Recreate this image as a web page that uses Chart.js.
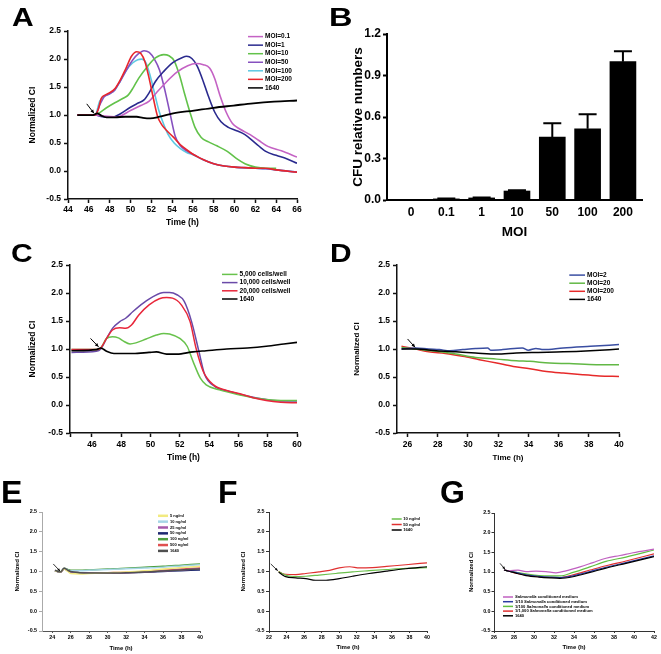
<!DOCTYPE html>
<html>
<head>
<meta charset="utf-8">
<script src="https://cdn.jsdelivr.net/npm/chart.js@4.4.0/dist/chart.umd.min.js"></script>
<style>
  body { margin: 0; background: #fff; width: 661px; height: 654px; position: relative; overflow: hidden;
         font-family: Arial, "Liberation Sans", sans-serif; }
  .letter { position: absolute; font-weight: bold; color: #000; line-height: 1; transform-origin: left top;
            will-change: transform; }
  .box { position: absolute; }
</style>
</head>
<body>
<div class="letter" style="left:12px;top:5px;font-size:25px;transform:scaleX(1.2)">A</div>
<div class="letter" style="left:329px;top:4px;font-size:26px;transform:scaleX(1.25)">B</div>
<div class="letter" style="left:11px;top:240px;font-size:26px;transform:scaleX(1.15)">C</div>
<div class="letter" style="left:330px;top:240px;font-size:26px;transform:scaleX(1.15)">D</div>
<div class="letter" style="left:1px;top:476px;font-size:32px;transform:scaleX(1)">E</div>
<div class="letter" style="left:218px;top:476px;font-size:32px;transform:scaleX(1)">F</div>
<div class="letter" style="left:440px;top:476px;font-size:32px;transform:scaleX(1)">G</div>

<script>
// ---------- data (time h, normalized CI) ----------
// panel A
const aMoi01 = [[44.9,1.0],[46.6,1.0],[47.5,0.98],[48.5,0.97],[49.0,0.98],[50.0,1.08],[51.0,1.17],[51.8,1.25],[52.5,1.4],[53.5,1.6],[54.5,1.77],[55.5,1.88],[56.3,1.92],[57.0,1.9],[57.6,1.84],[58.1,1.65],[58.6,1.35],[59.2,1.05],[59.8,0.85],[60.5,0.75],[61.5,0.65],[62.3,0.55],[63.2,0.44],[64.5,0.36],[66.0,0.25]];
const aMoi1 = [[44.9,1.0],[46.6,1.0],[47.3,0.97],[48.3,0.96],[49.0,1.02],[50.0,1.14],[50.8,1.22],[51.3,1.27],[51.8,1.4],[52.4,1.6],[53.2,1.78],[54.1,1.94],[55.0,2.03],[55.4,2.05],[55.9,2.01],[56.4,1.88],[56.9,1.65],[57.5,1.33],[58.1,1.05],[58.7,0.88],[59.4,0.78],[60.2,0.72],[61.0,0.65],[62.0,0.5],[63.0,0.35],[64.0,0.28],[65.0,0.22],[66.0,0.14]];
const aMoi10 = [[44.9,1.0],[46.6,1.0],[47.0,1.04],[47.7,1.13],[48.5,1.22],[49.3,1.3],[49.8,1.36],[50.3,1.5],[50.8,1.66],[51.6,1.86],[52.4,2.02],[53.2,2.08],[53.7,2.06],[54.2,1.97],[54.7,1.72],[55.2,1.38],[55.7,1.06],[56.2,0.78],[56.8,0.6],[57.5,0.52],[58.3,0.45],[59.3,0.35],[60.2,0.22],[61.0,0.13],[62.0,0.07],[63.0,0.05],[64.0,0.05]];
const aMoi50 = [[44.9,1.0],[46.6,1.0],[47.1,1.2],[47.5,1.33],[48.0,1.38],[48.5,1.45],[49.0,1.6],[49.6,1.8],[50.2,1.98],[50.8,2.1],[51.3,2.15],[51.8,2.12],[52.3,2.0],[52.8,1.8],[53.3,1.45],[53.8,1.03],[54.3,0.62],[54.8,0.45],[55.4,0.36],[56.0,0.3],[57.0,0.2],[58.0,0.13],[59.0,0.09],[60.0,0.07],[62.0,0.05],[63.0,0.04],[64.0,0.02],[66.0,-0.02]];
const aMoi100 = [[44.9,1.0],[46.6,1.0],[47.05,1.25],[47.5,1.34],[48.0,1.38],[48.5,1.45],[49.0,1.6],[49.6,1.8],[50.2,1.93],[50.7,1.99],[51.1,2.0],[51.5,1.93],[51.9,1.7],[52.3,1.4],[52.7,1.1],[53.1,0.88],[53.6,0.66],[54.2,0.5],[54.8,0.4],[55.4,0.33],[56.0,0.29],[57.0,0.2],[58.0,0.13],[59.0,0.09],[60.0,0.07],[62.0,0.05],[63.0,0.04],[64.0,0.02],[66.0,-0.02]];
const aMoi200 = [[44.9,1.0],[46.6,1.0],[46.9,1.1],[47.2,1.3],[47.6,1.36],[48.0,1.4],[48.5,1.47],[49.0,1.62],[49.6,1.85],[50.1,2.05],[50.6,2.13],[51.0,2.1],[51.4,1.95],[51.8,1.65],[52.2,1.3],[52.6,0.98],[53.0,0.83],[53.5,0.72],[54.1,0.61],[54.8,0.47],[55.4,0.38],[56.0,0.3],[56.7,0.23],[57.4,0.17],[58.0,0.13],[59.0,0.09],[60.0,0.07],[61.0,0.06],[62.0,0.05],[63.0,0.05],[64.0,0.02],[66.0,-0.02]];
const a1640 = [[44.9,1.0],[46.4,1.0],[46.8,1.03],[47.2,0.99],[47.7,0.96],[48.5,0.96],[49.5,0.97],[50.6,0.97],[51.2,0.95],[51.9,0.94],[52.8,0.97],[54.1,1.03],[56.1,1.08],[58.0,1.13],[59.9,1.17],[61.8,1.21],[63.8,1.24],[66.0,1.26]];

// panel B
const cfuLabels = ['0', '0.1', '1', '10', '50', '100', '200'];
const cfuMean = [0, 0.008, 0.015, 0.065, 0.455, 0.515, 1.0];
const cfuSd = [0, 0.002, 0.003, 0.006, 0.1, 0.105, 0.075];

// panel C
const c5000 = [[44.6,0.99],[46.3,0.99],[46.6,1.02],[47.0,1.19],[47.4,1.22],[47.8,1.2],[48.1,1.15],[48.6,1.09],[49.0,1.11],[49.7,1.18],[50.4,1.25],[50.9,1.28],[51.3,1.27],[52.0,1.19],[52.5,1.05],[52.9,0.78],[53.4,0.48],[53.8,0.36],[54.7,0.27],[56.1,0.18],[57.5,0.11],[58.9,0.08],[60.0,0.08]];
const c10000 = [[44.6,0.94],[46.3,0.96],[46.6,1.0],[47.0,1.19],[47.4,1.37],[47.9,1.49],[48.3,1.55],[48.8,1.67],[49.5,1.82],[50.2,1.94],[50.9,2.01],[51.3,2.01],[51.8,1.97],[52.3,1.85],[52.8,1.49],[53.3,0.96],[53.7,0.54],[54.4,0.33],[55.4,0.24],[56.6,0.16],[57.9,0.1],[59.1,0.07],[60.0,0.07]];
const c20000 = [[44.6,0.99],[46.3,0.99],[46.6,1.02],[47.0,1.19],[47.4,1.34],[47.9,1.38],[48.3,1.37],[48.7,1.43],[49.2,1.61],[49.9,1.79],[50.6,1.9],[51.1,1.92],[51.5,1.91],[52.1,1.79],[52.7,1.49],[53.1,1.02],[53.6,0.6],[54.3,0.36],[55.2,0.26],[56.1,0.2],[57.0,0.13],[57.9,0.08],[58.9,0.05],[60.0,0.04]];
const c1640 = [[44.6,0.97],[46.3,0.99],[46.6,1.02],[47.0,0.96],[47.5,0.92],[48.8,0.92],[49.9,0.94],[50.4,0.95],[51.1,0.91],[51.8,0.91],[52.9,0.95],[53.8,0.97],[55.2,1.0],[56.6,1.02],[57.9,1.05],[59.1,1.09],[60.0,1.12]];

// panel D
const dMoi2 = [[25.6,1.0],[26.55,1.02],[27.4,1.0],[28.1,0.99],[28.8,0.97],[29.65,0.99],[30.5,1.01],[31.3,1.02],[31.5,0.98],[32.3,0.99],[33.6,1.02],[34.0,0.98],[34.5,1.01],[35.0,0.99],[36.3,1.02],[38.1,1.05],[40.0,1.08]];
const dMoi20 = [[25.6,1.03],[26.55,1.0],[27.9,0.96],[29.2,0.91],[30.5,0.85],[31.9,0.82],[33.2,0.79],[34.1,0.78],[35.4,0.75],[36.7,0.74],[38.5,0.72],[40.0,0.72]];
const dMoi200 = [[25.6,1.05],[26.55,1.0],[27.4,0.95],[28.5,0.92],[29.65,0.87],[30.75,0.81],[31.9,0.75],[33.0,0.69],[34.1,0.65],[35.2,0.6],[36.3,0.57],[37.6,0.54],[38.7,0.52],[40.0,0.51]];
const d1640 = [[25.6,1.0],[26.55,1.0],[27.9,0.97],[29.2,0.95],[30.5,0.93],[31.9,0.91],[33.2,0.93],[34.5,0.94],[36.3,0.95],[38.1,0.97],[40.0,1.0]];

// panel E (shared time points)
const eTime = [24.3, 24.9, 25.3, 25.7, 26, 27, 28, 30, 32, 34, 36, 38, 40];
const e5 = [1.02, 0.99, 1.06, 1.0, 0.95, 0.94, 0.95, 0.97, 0.99, 1.02, 1.06, 1.1, 1.13];
const e10 = [1.02, 0.99, 1.08, 1.04, 1.02, 1.02, 1.03, 1.05, 1.07, 1.09, 1.11, 1.14, 1.17];
const e25 = [1.02, 0.98, 1.07, 1.02, 0.99, 0.97, 0.96, 0.96, 0.97, 0.99, 1.01, 1.04, 1.07];
const e50 = [1.02, 0.98, 1.07, 1.02, 0.99, 0.97, 0.96, 0.96, 0.97, 0.98, 1.0, 1.02, 1.04];
const e100 = [1.02, 0.99, 1.08, 1.05, 1.03, 1.03, 1.04, 1.06, 1.08, 1.11, 1.13, 1.16, 1.19];
const e500 = [1.02, 0.98, 1.08, 1.02, 0.99, 0.97, 0.96, 0.97, 0.98, 1.0, 1.03, 1.06, 1.09];
const e1640 = [1.03, 0.99, 1.08, 1.03, 1.0, 0.97, 0.96, 0.96, 0.97, 0.99, 1.01, 1.04, 1.06];

// panel F
const f10 = [[23.1,1.0],[23.5,0.95],[23.9,0.91],[24.5,0.88],[25.05,0.87],[26.2,0.88],[27.7,0.91],[29.6,0.95],[31.5,0.99],[33.4,1.02],[35.4,1.05],[37.6,1.08],[40.0,1.1]];
const f50 = [[23.1,1.0],[23.5,0.95],[23.9,0.93],[25.05,0.92],[26.2,0.95],[27.7,0.99],[28.9,1.03],[30.0,1.09],[31.2,1.12],[32.3,1.09],[33.8,1.1],[35.4,1.13],[37.6,1.17],[40.0,1.22]];
const f1640 = [[23.1,0.98],[23.5,0.92],[23.9,0.87],[25.05,0.84],[26.2,0.82],[27.3,0.78],[28.5,0.78],[30.0,0.82],[31.5,0.88],[33.4,0.95],[35.4,1.01],[37.6,1.07],[40.0,1.12]];

// panel G
const gSal = [[27.0,1.05],[27.5,1.03],[28.4,1.05],[29.2,1.01],[30.2,1.02],[31.2,1.01],[32.2,0.98],[33.2,1.03],[34.6,1.13],[35.9,1.24],[37.2,1.35],[38.6,1.42],[39.9,1.49],[42.0,1.58]];
const gSal10 = [[27.0,1.05],[27.5,1.02],[28.2,0.99],[29.2,0.93],[30.5,0.89],[31.6,0.87],[32.6,0.86],[33.9,0.9],[35.6,1.01],[37.2,1.12],[39.2,1.24],[42.0,1.41]];
const gSal100 = [[27.0,1.05],[27.5,1.02],[28.2,0.99],[29.2,0.95],[30.5,0.91],[31.6,0.9],[32.6,0.9],[33.9,0.99],[35.6,1.13],[37.2,1.27],[39.2,1.38],[42.0,1.56]];
const gSal1000 = [[27.0,1.05],[27.5,1.02],[28.2,0.97],[29.2,0.92],[30.5,0.88],[31.6,0.86],[32.6,0.86],[33.9,0.93],[35.6,1.05],[37.2,1.16],[39.2,1.28],[42.0,1.46]];
const g1640 = [[27.0,1.05],[27.5,1.02],[28.2,0.97],[29.2,0.91],[30.5,0.87],[31.6,0.85],[32.6,0.84],[33.9,0.88],[35.6,0.99],[37.2,1.1],[39.2,1.22],[42.0,1.39]];

// tick values
const ciTicks = [-0.5, 0, 0.5, 1, 1.5, 2, 2.5];
const cfuTicks = [0, 0.3, 0.6, 0.9, 1.2];
const aTimeTicks = [44, 46, 48, 50, 52, 54, 56, 58, 60, 62, 64, 66];
const cTimeTicks = [44.5, 46, 48, 50, 52, 54, 56, 58, 60];
const dTimeTicks = [26, 28, 30, 32, 34, 36, 38, 40];
const eTimeTicks = [24, 26, 28, 30, 32, 34, 36, 38, 40];
const fTimeTicks = [22, 24, 26, 28, 30, 32, 34, 36, 38, 40];
const gTimeTicks = [26, 28, 30, 32, 34, 36, 38, 40, 42];

Chart.defaults.font.family = 'Arial, "Liberation Sans", sans-serif';
Chart.defaults.color = '#000';

// legend drawn inside the plot area
const inLegend = {
  id: 'inLegend',
  afterDraw(chart, args, o) {
    const {ctx, chartArea} = chart;
    ctx.save();
    ctx.textBaseline = 'middle';
    chart.data.datasets.forEach((ds, i) => {
      if (!ds.label) return;
      const x = chartArea.left + o.dx;
      const y = chartArea.top + o.dy + i * o.gap;
      ctx.strokeStyle = ds.borderColor;
      ctx.lineWidth = o.lw;
      ctx.beginPath(); ctx.moveTo(x, y); ctx.lineTo(x + o.len, y); ctx.stroke();
      let tx = x + o.len + o.sp;
      ctx.fillStyle = '#000';
      ds.label.split(/(Salmonella)/).forEach(p => {
        if (!p) return;
        ctx.font = (p === 'Salmonella' ? 'italic ' : '') + 'bold ' + o.size + 'px Arial, "Liberation Sans", sans-serif';
        ctx.fillText(p, tx, y);
        tx += ctx.measureText(p).width;
      });
    });
    ctx.restore();
  }
};

// small arrow marking the addition time
const arrowMark = {
  id: 'arrowMark',
  afterDatasetsDraw(chart, args, o) {
    if (!o.from) return;
    const {ctx, scales: {x, y}} = chart;
    const x0 = x.getPixelForValue(o.from[0]), y0 = y.getPixelForValue(o.from[1]);
    const x1 = x.getPixelForValue(o.to[0]), y1 = y.getPixelForValue(o.to[1]);
    const ang = Math.atan2(y1 - y0, x1 - x0);
    ctx.save();
    ctx.strokeStyle = '#000'; ctx.fillStyle = '#000'; ctx.lineWidth = o.lw || 1;
    ctx.beginPath(); ctx.moveTo(x0, y0); ctx.lineTo(x1, y1); ctx.stroke();
    const h = o.head || 4;
    ctx.beginPath();
    ctx.moveTo(x1, y1);
    ctx.lineTo(x1 - h * Math.cos(ang - 0.45), y1 - h * Math.sin(ang - 0.45));
    ctx.lineTo(x1 - h * Math.cos(ang + 0.45), y1 - h * Math.sin(ang + 0.45));
    ctx.closePath(); ctx.fill();
    ctx.restore();
  }
};

// upper error bars for panel B
const errBars = {
  id: 'errBars',
  afterDatasetsDraw(chart, args, o) {
    const {ctx, scales: {x, y}} = chart;
    ctx.save();
    ctx.strokeStyle = '#000'; ctx.lineWidth = 2;
    cfuMean.forEach((m, i) => {
      const e = cfuSd[i];
      if (!e) return;
      const px = x.getPixelForValue(i);
      const p0 = y.getPixelForValue(m), p1 = y.getPixelForValue(m + e);
      ctx.beginPath();
      ctx.moveTo(px, p0); ctx.lineTo(px, p1);
      ctx.moveTo(px - o.cap, p1); ctx.lineTo(px + o.cap, p1);
      ctx.stroke();
    });
    ctx.restore();
  }
};

const pts = arr => arr.map(([x, y]) => ({x, y}));

function line(label, arr, color, lw, order) {
  return {label, data: pts(arr), borderColor: color, borderWidth: lw, pointRadius: 0,
          cubicInterpolationMode: 'monotone', fill: false, order: order || 0};
}

// p: canvas box (L,T,R,B) + plot area ca [l,t,r,b] + axis settings
function makePanel(p, type, datasets, plugins, pluginOpts, xExtra) {
  const div = document.createElement('div');
  div.className = 'box';
  div.style.left = p.L + 'px'; div.style.top = p.T + 'px';
  const cv = document.createElement('canvas');
  cv.width = p.R - p.L; cv.height = p.B - p.T;
  cv.style.width = cv.width + 'px'; cv.style.height = cv.height + 'px';
  div.appendChild(cv);
  document.body.appendChild(div);

  const [l, t, r, b] = p.ca;
  const yw = l - p.L, xh = p.B - b;
  const tlh = p.titleSize * 1.2;
  const tickFont = {size: p.tickSize, weight: 'bold'};
  const titleFont = {size: p.titleSize, weight: 'bold'};

  return new Chart(cv, {
    type,
    data: {datasets},
    plugins,
    options: {
      responsive: false, animation: false, devicePixelRatio: 1,
      layout: {padding: {top: t - p.T, right: p.R - r, left: 0, bottom: 0}},
      plugins: Object.assign({legend: {display: false}, tooltip: {enabled: false}}, pluginOpts),
      scales: {
        x: Object.assign({
          type: 'linear', min: p.xMin, max: p.xMax, offset: false,
          afterFit: s => { s.height = xh; },
          afterBuildTicks: s => { s.ticks = p.xTicks.map(v => ({value: v})); },
          grid: {drawOnChartArea: false, drawTicks: p.xTickLen > 0, tickLength: p.xTickLen,
                 tickColor: p.xAxisColor, tickWidth: p.axisW, offset: false},
          border: {display: true, color: p.xAxisColor, width: p.axisW},
          ticks: {font: tickFont, color: '#000', padding: p.xTickPad, maxRotation: 0, autoSkip: false,
                  callback: p.xLabel},
          title: {display: true, text: p.xTitle, font: titleFont, color: '#000',
                  padding: {top: 0, bottom: p.B - p.xtc - tlh / 2}}
        }, xExtra || {}),
        y: {
          type: 'linear', min: p.yMin, max: p.yMax,
          afterFit: s => { s.width = yw; },
          afterBuildTicks: s => { s.ticks = p.yTicks.map(v => ({value: v})); },
          grid: {drawOnChartArea: false, drawTicks: true, tickLength: p.yTickLen,
                 tickColor: p.yAxisColor, tickWidth: p.axisW},
          border: {display: true, color: p.yAxisColor, width: p.axisW},
          ticks: {font: tickFont, color: '#000', padding: p.yTickPad, autoSkip: false,
                  callback: v => v.toFixed(1)},
          title: {display: true, text: p.yTitle, font: titleFont, color: '#000',
                  padding: {top: p.ytc - p.L - tlh / 2, bottom: 0}}
        }
      }
    }
  });
}

const intLabel = v => String(v);
const onlyEven = v => (Number.isInteger(v) ? String(v) : '');

// ---------- A ----------
makePanel({
  L: 20, T: 23, R: 309, B: 232, ca: [68, 31, 297, 199],
  xMin: 44, xMax: 66, yMin: -0.5, yMax: 2.5, xTicks: aTimeTicks, yTicks: ciTicks, xLabel: intLabel,
  tickSize: 8.5, titleSize: 8.5, ytc: 33, xtc: 223, xTitle: 'Time (h)', yTitle: 'Normalized CI',
  xTickLen: 4, yTickLen: 4, xTickPad: 2, yTickPad: 3, axisW: 1.5, xAxisColor: '#111', yAxisColor: '#111'
}, 'line', [
  line('MOI=0.1', aMoi01, '#c462c4', 1.6, 1),
  line('MOI=1', aMoi1, '#2a2a8e', 1.6, 1),
  line('MOI=10', aMoi10, '#62c24a', 1.6, 1),
  line('MOI=50', aMoi50, '#8650bf', 1.6, 1),
  line('MOI=100', aMoi100, '#5cc8e2', 1.6, 1),
  line('MOI=200', aMoi200, '#e8262c', 1.6, 0),
  line('1640', a1640, '#000000', 1.8, -1)
], [inLegend, arrowMark], {
  inLegend: {dx: 180, dy: 5.5, gap: 8.55, len: 15, sp: 2, size: 6.5, lw: 1.5},
  arrowMark: {from: [45.8, 1.2], to: [46.5, 1.03], head: 4}
});

// ---------- B ----------
makePanel({
  L: 340, T: 24, R: 656, B: 242, ca: [387, 34, 642, 200],
  xMin: -0.68, xMax: 6.54, yMin: 0, yMax: 1.2, xTicks: cfuLabels.map((_, i) => i), yTicks: cfuTicks,
  xLabel: v => cfuLabels[v] !== undefined ? cfuLabels[v] : '',
  tickSize: 12, titleSize: 13.5, ytc: 358, xtc: 232, xTitle: 'MOI', yTitle: 'CFU relative numbers',
  xTickLen: 0, yTickLen: 4, xTickPad: 5, yTickPad: 2, axisW: 2, xAxisColor: '#000', yAxisColor: '#000'
}, 'bar', [{
  label: '', data: cfuMean.map((v, i) => ({x: i, y: v})), backgroundColor: '#000', borderWidth: 0,
  barThickness: 26
}], [errBars], {errBars: {cap: 9}});

// ---------- C ----------
makePanel({
  L: 20, T: 257, R: 309, B: 467, ca: [70, 265, 297, 433],
  xMin: 44.5, xMax: 60, yMin: -0.5, yMax: 2.5, xTicks: cTimeTicks, yTicks: ciTicks, xLabel: onlyEven,
  tickSize: 8.5, titleSize: 8.5, ytc: 33, xtc: 458, xTitle: 'Time (h)', yTitle: 'Normalized CI',
  xTickLen: 4, yTickLen: 4, xTickPad: 3, yTickPad: 3, axisW: 1.5, xAxisColor: '#111', yAxisColor: '#111'
}, 'line', [
  line('5,000 cells/well', c5000, '#68c24c', 1.5, 1),
  line('10,000 cells/well', c10000, '#6a4aa8', 1.5, 1),
  line('20,000 cells/well', c20000, '#e8263a', 1.5, 0),
  line('1640', c1640, '#000000', 1.6, -1)
], [inLegend, arrowMark], {
  inLegend: {dx: 152, dy: 9.3, gap: 8.2, len: 15.5, sp: 2, size: 6.6, lw: 1.5},
  arrowMark: {from: [45.9, 1.19], to: [46.45, 1.04], head: 4}
});

// ---------- D ----------
makePanel({
  L: 345, T: 257, R: 631, B: 467, ca: [397, 265, 619, 433],
  xMin: 25.3, xMax: 40, yMin: -0.5, yMax: 2.5, xTicks: dTimeTicks, yTicks: ciTicks, xLabel: intLabel,
  tickSize: 8.5, titleSize: 8, ytc: 357, xtc: 458, xTitle: 'Time (h)', yTitle: 'Normalized CI',
  xTickLen: 4, yTickLen: 4, xTickPad: 3, yTickPad: 3, axisW: 1.5, xAxisColor: '#111', yAxisColor: '#111'
}, 'line', [
  line('MOI=2', dMoi2, '#3a4ea2', 1.5, 1),
  line('MOI=20', dMoi20, '#62b845', 1.5, 1),
  line('MOI=200', dMoi200, '#e62a2a', 1.5, 1),
  line('1640', d1640, '#000000', 1.5, 0)
], [inLegend, arrowMark], {
  inLegend: {dx: 172.3, dy: 10, gap: 8.1, len: 15.7, sp: 2, size: 6.5, lw: 1.5},
  arrowMark: {from: [26.0, 1.18], to: [26.5, 1.03], head: 4}
});

// ---------- E ----------
const eSeries = (label, vals, color, order) =>
  line(label, eTime.map((t, i) => [t, vals[i]]), color, 1.5, order);
makePanel({
  L: 5, T: 505, R: 208, B: 654, ca: [42, 512, 200, 631],
  xMin: 22.9, xMax: 40, yMin: -0.5, yMax: 2.5, xTicks: eTimeTicks, yTicks: ciTicks, xLabel: intLabel,
  tickSize: 5.3, titleSize: 6, ytc: 17, xtc: 648, xTitle: 'Time (h)', yTitle: 'Normalized CI',
  xTickLen: 2, yTickLen: 3, xTickPad: 1, yTickPad: 2, axisW: 1, xAxisColor: '#555', yAxisColor: '#aaa'
}, 'line', [
  eSeries('5 ng/ml', e5, '#f2ea80', 1),
  eSeries('10 ng/ml', e10, '#a6d6e6', 1),
  eSeries('25 ng/ml', e25, '#a45aaa', 1),
  eSeries('50 ng/ml', e50, '#1e2870', 1),
  eSeries('100 ng/ml', e100, '#4e9e3e', 1),
  eSeries('500 ng/ml', e500, '#e05050', 1),
  eSeries('1640', e1640, '#505050', 0)
], [inLegend, arrowMark], {
  inLegend: {dx: 116, dy: 3.8, gap: 5.85, len: 10, sp: 2, size: 4, lw: 2.5},
  arrowMark: {from: [24.12, 1.19], to: [24.85, 1.01], head: 3, lw: 0.8}
});

// ---------- F ----------
makePanel({
  L: 232, T: 505, R: 435, B: 654, ca: [269, 512, 427, 631],
  xMin: 22, xMax: 40, yMin: -0.5, yMax: 2.5, xTicks: fTimeTicks, yTicks: ciTicks, xLabel: intLabel,
  tickSize: 5.3, titleSize: 6, ytc: 243, xtc: 647, xTitle: 'Time (h)', yTitle: 'Normalized CI',
  xTickLen: 2, yTickLen: 3, xTickPad: 1, yTickPad: 1.5, axisW: 1, xAxisColor: '#333', yAxisColor: '#333'
}, 'line', [
  line('10 ng/ml', f10, '#6abf4b', 1.2, 1),
  line('50 ng/ml', f50, '#e03030', 1.2, 1),
  line('1640', f1640, '#000000', 1.2, 0)
], [inLegend, arrowMark], {
  inLegend: {dx: 122.7, dy: 7, gap: 5.5, len: 10, sp: 1.5, size: 4.2, lw: 1.5},
  arrowMark: {from: [22.2, 1.19], to: [23.0, 1.02], head: 3, lw: 0.8}
});

// ---------- G ----------
makePanel({
  L: 457, T: 505, R: 660, B: 654, ca: [494, 513, 654, 631],
  xMin: 26, xMax: 42, yMin: -0.5, yMax: 2.5, xTicks: gTimeTicks, yTicks: ciTicks, xLabel: intLabel,
  tickSize: 5.3, titleSize: 6, ytc: 471, xtc: 647, xTitle: 'Time (h)', yTitle: 'Normalized CI',
  xTickLen: 2, yTickLen: 2.5, xTickPad: 1, yTickPad: 1, axisW: 1, xAxisColor: '#333', yAxisColor: '#333'
}, 'line', [
  line('Salmonella conditioned medium', gSal, '#c060c0', 1.2, 1),
  line('1/10 Salmonella conditioned medium', gSal10, '#2a3aa0', 1.2, 1),
  line('1/100 Salmonella conditioned medium', gSal100, '#60c040', 1.2, 1),
  line('1/1,000 Salmonella conditioned medium', gSal1000, '#e03030', 1.2, 1),
  line('1640', g1640, '#000000', 1.2, 0)
], [inLegend, arrowMark], {
  inLegend: {dx: 9, dy: 84, gap: 4.7, len: 10, sp: 2, size: 4.1, lw: 1.5},
  arrowMark: {from: [26.6, 1.22], to: [27.1, 1.07], head: 3, lw: 0.8}
});
</script>
</body>
</html>
